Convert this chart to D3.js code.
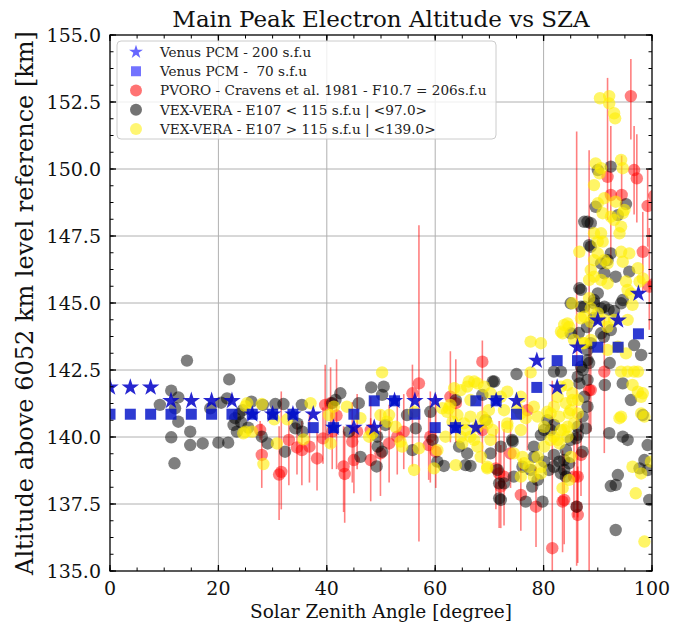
<!DOCTYPE html>
<html>
<head>
<meta charset="utf-8">
<script src="https://cdn.jsdelivr.net/npm/d3@7"></script>
<style>
  body { margin: 0; background: #fff; }
  text { font-family: "DejaVu Serif", serif; fill: #111; }
</style>
</head>
<body>
<div id="root"></div>
<script>
// ---- data ----
var pcmSza = [0, 3.75, 7.5, 11.25, 15, 18.75, 22.5, 26.25, 30, 33.75, 37.5, 41.25, 45, 48.75,
  52.5, 56.25, 60, 63.75, 67.5, 71.25, 75, 78.75, 82.5, 86.25, 90, 93.75, 97.5];
var pcm200 = [141.85, 141.85, 141.85, 141.35, 141.35, 141.35, 141.35, 140.85, 140.85, 140.85,
  140.85, 140.35, 140.35, 140.35, 141.35, 141.35, 141.35, 140.35, 140.35, 141.35, 141.35,
  142.85, 141.85, 143.35, 144.35, 144.35, 145.35];
var pcm70 = [140.85, 140.85, 140.85, 140.85, 140.85, 140.85, 140.85, 140.85, 140.85, 140.85,
  140.35, 140.35, 140.85, 141.35, 141.35, 140.85, 140.35, 140.35, 141.35, 141.35, 140.85,
  141.85, 142.85, 142.85, 143.35, 143.35, 143.85];

// PVORO: [sza, alt, low, high]
var pvoro = [
  [27.7, 140.26, 139.9, 140.6], [28.0, 139.33, 138.1, 140.5], [31.2, 138.6, 136.9, 140.4],
  [31.6, 138.7, 137.3, 141.7], [33.0, 139.89, 138.2, 140.8], [34.5, 139.61, 138.6, 140.5],
  [35.4, 139.51, 138.2, 140.6], [36.8, 139.64, 138.3, 140.9], [38.2, 139.2, 138.0, 140.2],
  [39.3, 139.95, 139.0, 141.1], [39.7, 141.2, 139.9, 142.7], [40.7, 141.26, 139.6, 142.6],
  [41.0, 140.2, 138.8, 141.3], [41.8, 140.8, 138.8, 142.9], [43.1, 138.9, 137.2, 140.4],
  [43.3, 138.62, 136.8, 140.2], [44.7, 139.83, 138.3, 141.3], [45.0, 139.14, 137.9, 140.4],
  [45.6, 140.2, 138.8, 141.6], [48.1, 139.14, 137.6, 140.7], [48.1, 140.26, 138.9, 141.5],
  [49.9, 139.39, 137.8, 141.0], [51.5, 139.76, 138.3, 141.2], [53.0, 140.01, 138.6, 141.4],
  [54.2, 140.2, 138.8, 141.6], [55.8, 141.63, 138.9, 142.7], [57.0, 142.0, 136.1, 147.9],
  [58.8, 139.7, 138.4, 141.0], [59.1, 140.01, 138.3, 141.7], [60.1, 139.45, 138.1, 141.6],
  [62.8, 141.5, 139.8, 143.2], [63.8, 141.26, 139.8, 142.9], [68.7, 142.81, 142.0, 143.6],
  [68.7, 140.26, 139.0, 141.5], [71.2, 138.83, 137.3, 140.3], [71.8, 138.64, 136.6, 140.6],
  [72.1, 138.15, 136.6, 139.7], [72.7, 138.52, 136.7, 140.3], [73.9, 139.39, 138.1, 140.7],
  [75.8, 137.84, 136.5, 139.2], [77.0, 141.0, 139.5, 142.5], [78.6, 137.4, 135.9, 138.9],
  [81.6, 135.85, 134.0, 142.1], [83.5, 137.59, 135.7, 139.5], [83.8, 137.65, 136.0, 139.3],
  [85.6, 138.52, 137.0, 140.0], [86.1, 137.4, 135.2, 151.4], [86.3, 137.09, 135.3, 138.9],
  [86.3, 138.52, 137.0, 140.2], [86.9, 139.33, 137.8, 140.9], [88.4, 141.75, 134.9, 150.7],
  [88.7, 141.75, 140.2, 143.3], [91.2, 142.44, 139.4, 144.5], [91.8, 149.71, 148.1, 153.4],
  [92.4, 149.03, 146.5, 151.6], [94.4, 149.03, 148.6, 150.5], [96.1, 152.72, 151.1, 154.1],
  [96.7, 149.96, 148.3, 151.6], [97.2, 149.65, 148.0, 151.3], [98.3, 146.91, 145.4, 148.4],
  [99.2, 148.62, 147.1, 150.0], [99.5, 145.61, 144.0, 147.8], [100.4, 149.0, 147.6, 150.4],
  [100.3, 145.7, 144.6, 146.8]
];

// VEX-VERA E107 < 115 s.f.u : [sza, alt]
var veraLow = [
  [9.2, 141.2], [11.3, 141.73], [12.6, 141.48], [12.0, 141.07], [12.6, 140.57], [11.3, 139.99],
  [11.9, 139.02], [14.2, 142.85], [14.8, 140.2], [14.8, 139.7], [17.1, 139.76], [18.5, 141.07],
  [20.0, 139.79], [21.8, 139.79], [20.5, 141.28], [21.6, 141.44], [22.0, 142.15], [23.1, 140.7],
  [22.8, 140.45], [23.4, 140.2], [24.5, 141.0], [23.8, 140.85], [24.2, 140.55], [25.5, 140.35],
  [26.1, 141.32], [28.2, 141.2], [28.0, 140.01], [29.1, 139.76], [30.5, 141.23], [32.0, 141.23],
  [32.3, 139.45], [34.2, 140.32], [34.6, 140.5], [35.4, 141.2], [35.5, 140.2], [41.0, 141.26],
  [41.6, 141.38], [42.5, 141.63], [44.1, 140.2], [45.9, 141.26], [46.2, 139.26], [48.2, 141.85],
  [50.5, 141.88], [50.2, 141.57], [50.8, 140.45], [49.3, 140.01], [49.4, 139.64], [50.2, 139.45],
  [49.2, 138.9], [54.8, 140.82], [56.4, 140.32], [55.8, 139.51], [59.1, 140.94], [59.5, 139.89],
  [60.4, 139.08], [61.6, 138.92], [63.8, 141.38], [64.4, 139.64], [65.9, 139.39], [65.6, 138.95],
  [66.5, 138.92], [68.7, 141.57], [69.3, 140.63], [70.2, 139.39], [70.6, 142.07], [71.5, 138.77],
  [71.8, 138.27], [71.8, 137.71], [72.7, 138.27], [72.1, 137.65], [72.1, 139.64], [74.2, 139.89],
  [74.3, 139.83], [75.0, 142.35], [70.9, 142.07], [76.7, 137.59], [77.9, 138.15], [79.8, 137.59],
  [78.2, 139.26], [80.1, 140.26], [81.9, 139.33], [81.9, 142.44], [83.2, 142.44], [83.2, 138.64],
  [84.1, 138.52], [84.7, 139.02], [86.0, 139.95], [86.3, 140.08], [87.2, 139.45], [87.8, 140.32],
  [86.1, 137.4], [88.1, 142.13], [88.4, 142.76], [88.1, 143.25], [85.0, 143.87], [86.5, 143.88],
  [91.1, 143.74], [92.4, 143.99], [92.1, 140.14], [91.3, 141.94], [94.6, 142.0], [93.3, 138.21],
  [92.4, 138.17], [93.7, 138.58], [93.3, 136.53], [94.6, 140.01], [95.5, 139.89], [96.1, 141.38],
  [96.7, 143.43], [98.0, 143.06], [99.2, 139.7], [98.3, 140.82], [97.7, 138.83], [98.6, 139.14],
  [99.5, 137.65], [99.2, 138.77], [92.2, 142.76], [86.3, 142.25], [87.2, 142.5], [86.6, 142.0],
  [87.5, 141.5], [88.1, 141.13], [87.2, 140.76], [86.3, 140.38], [85.0, 139.89], [84.1, 139.51],
  [82.9, 139.08], [81.9, 138.89], [83.8, 138.77], [80.1, 139.08], [81.0, 138.77], [78.2, 139.64],
  [77.6, 138.77], [78.9, 138.4], [76.1, 138.89], [74.5, 138.52], [81.3, 140.26], [81.9, 140.45],
  [80.7, 140.63], [79.5, 140.07], [83.8, 139.14], [86.9, 142.62], [88.1, 142.87], [88.7, 143.5],
  [90.6, 143.87], [85.0, 144.99], [86.9, 144.86], [89.3, 144.99], [91.2, 144.86], [94.3, 144.99],
  [92.4, 150.09], [90.0, 149.96], [89.6, 148.59], [95.2, 148.69], [88.1, 148.03], [88.7, 147.98],
  [87.5, 148.03], [93.7, 148.28], [88.4, 147.16], [88.7, 147.1], [86.9, 145.49], [86.6, 145.55],
  [93.3, 145.98], [95.8, 146.17], [92.4, 146.85], [91.8, 146.6], [90.6, 146.48], [91.2, 146.11],
  [90.0, 145.36], [89.3, 145.11], [94.6, 145.11], [87.5, 144.86], [90.6, 144.8], [92.0, 144.75],
  [93.0, 144.7], [89.3, 144.44], [88.0, 144.1]
];

// VEX-VERA E107 > 115 s.f.u : [sza, alt]
var veraHigh = [
  [25.0, 141.15], [28.0, 141.23], [25.3, 141.26], [24.6, 140.14], [26.2, 140.2], [25.0, 140.2],
  [30.8, 139.76], [28.3, 138.99], [30.3, 140.66], [32.7, 140.66], [35.7, 139.91], [37.0, 141.26],
  [40.4, 140.82], [41.3, 141.13], [40.7, 139.76], [43.7, 141.13], [46.2, 140.7], [48.4, 140.14],
  [47.8, 140.01], [50.2, 142.41], [51.5, 140.82], [51.1, 140.57], [53.6, 139.83], [53.9, 139.64],
  [52.7, 140.38], [56.1, 138.77], [57.0, 139.58], [59.8, 138.83], [60.4, 139.51], [61.9, 140.01],
  [63.2, 140.57], [62.5, 141.07], [63.5, 141.82], [64.7, 140.01], [65.3, 140.51], [66.5, 140.76],
  [66.2, 142.07], [67.8, 142.0], [63.8, 138.95], [67.8, 139.64], [68.4, 139.26], [69.6, 138.83],
  [70.2, 139.89], [70.2, 141.63], [69.3, 140.63], [69.9, 141.0], [49.9, 140.82], [56.1, 140.94],
  [61.3, 141.07], [62.2, 140.94], [62.8, 141.2], [64.1, 140.82], [65.6, 140.26], [66.5, 140.01],
  [67.2, 139.89], [65.0, 139.76], [67.8, 140.38], [68.7, 140.76], [69.6, 140.51], [70.6, 140.26],
  [66.5, 141.38], [69.0, 141.88], [65.9, 141.88], [67.2, 142.07], [64.7, 141.75],
  [77.6, 143.56], [79.5, 143.5], [77.6, 142.41], [83.5, 143.87], [73.3, 141.69], [75.8, 141.5],
  [73.3, 140.38], [75.8, 140.26], [76.7, 140.7], [74.5, 139.39], [76.1, 139.26], [77.3, 138.89],
  [79.5, 138.64], [80.7, 140.94], [81.9, 141.13], [82.9, 140.76], [83.2, 140.26], [84.4, 140.38],
  [85.0, 141.0], [86.3, 140.88], [81.3, 139.89], [82.9, 139.76], [85.0, 139.26], [84.7, 138.4],
  [83.5, 138.09], [84.4, 141.94], [85.3, 141.63], [86.3, 141.38], [87.2, 143.5], [88.7, 143.62],
  [91.8, 143.25], [93.7, 143.37], [95.2, 143.12], [95.5, 142.44], [96.7, 142.44], [97.4, 141.69],
  [98.3, 141.63], [94.0, 140.7], [98.6, 140.76], [98.0, 140.88], [96.4, 138.89], [98.0, 138.64],
  [97.0, 137.9], [98.6, 136.1], [99.8, 139.08], [69.6, 138.89],
  [72.1, 141.5], [72.7, 141.0], [73.3, 140.51], [75.2, 141.07], [75.8, 140.88], [78.2, 141.13],
  [78.9, 140.76], [80.1, 140.38], [81.3, 140.88], [82.6, 141.5], [83.2, 141.88], [84.1, 141.26],
  [85.3, 141.38], [84.7, 140.88], [85.6, 140.51], [83.8, 140.26], [81.9, 140.01], [80.1, 139.64],
  [78.9, 139.26], [76.4, 139.02], [75.8, 138.52], [78.2, 138.52], [79.5, 138.89], [82.6, 139.89],
  [84.4, 140.01], [83.8, 144.18], [83.2, 143.93], [84.7, 144.11], [86.9, 144.43], [88.7, 144.3],
  [85.6, 143.62], [87.5, 143.5], [91.2, 144.37], [91.8, 144.11], [94.3, 142.44], [97.4, 142.44],
  [96.4, 141.94], [98.0, 141.5], [94.3, 140.76],
  [90.4, 152.64], [92.1, 152.72], [92.1, 152.45], [93.0, 152.08], [93.2, 151.89], [89.6, 150.21],
  [90.6, 150.03], [90.3, 149.84], [89.3, 149.4], [94.3, 150.34], [94.6, 150.03], [91.2, 148.91],
  [90.0, 148.72], [93.3, 148.78], [94.9, 148.47], [94.6, 148.35], [92.4, 148.22], [93.0, 148.1],
  [90.9, 148.35], [94.0, 147.6], [94.3, 147.85], [89.3, 147.6], [90.6, 147.6], [90.0, 147.29],
  [90.9, 147.29], [86.6, 146.91], [90.0, 146.85], [91.2, 146.6], [91.8, 146.48], [89.3, 146.6],
  [94.3, 146.91], [95.8, 146.85], [94.6, 146.54], [97.4, 146.3], [98.3, 145.92], [97.7, 145.8],
  [88.7, 146.23], [89.3, 145.98], [90.6, 145.86], [91.8, 145.73], [88.4, 145.86], [95.2, 145.8],
  [95.5, 145.49], [96.1, 145.36], [88.4, 145.18], [88.7, 144.8], [87.5, 144.49], [90.0, 144.62],
  [85.3, 144.99], [84.4, 144.24], [96.4, 144.93], [95.5, 144.37], [93.0, 144.37]
];

var xTicks = [0, 20, 40, 60, 80, 100];
var yTicks = [135, 137.5, 140, 142.5, 145, 147.5, 150, 152.5, 155];
var legendLabels = [
  'Venus PCM - 200 s.f.u',
  'Venus PCM -  70 s.f.u',
  'PVORO - Cravens et al. 1981 - F10.7 = 206s.f.u',
  'VEX-VERA - E107 < 115 s.f.u | <97.0>',
  'VEX-VERA - E107 > 115 s.f.u | <139.0>'
];

// ---- layout ----
var W = 686, H = 626;
var pL = 110, pR = 652, pT = 35, pB = 571;
var x = d3.scaleLinear().domain([0, 100]).range([pL, pR]);
var y = d3.scaleLinear().domain([135, 155]).range([pB, pT]);

var svg = d3.select('#root').append('svg')
  .attr('width', W)
  .attr('height', H);

svg.append('defs').append('clipPath').attr('id', 'clip')
  .append('rect')
  .attr('x', pL).attr('y', pT)
  .attr('width', pR - pL).attr('height', pB - pT);

// grid
var grid = svg.append('g').attr('id', 'grid');
grid.selectAll('line.gx')
  .data(xTicks.slice(1, -1))
  .enter().append('line')
  .attr('x1', function(d) { return x(d); })
  .attr('x2', function(d) { return x(d); })
  .attr('y1', pT).attr('y2', pB)
  .attr('stroke', '#b0b0b0').attr('stroke-width', 1);
grid.selectAll('line.gy')
  .data(yTicks.slice(1, -1))
  .enter().append('line')
  .attr('y1', function(d) { return y(d); })
  .attr('y2', function(d) { return y(d); })
  .attr('x1', pL).attr('x2', pR)
  .attr('stroke', '#b0b0b0').attr('stroke-width', 1);

var plot = svg.append('g').attr('clip-path', 'url(#clip)');
var R = 6.2;

// PVORO with error bars
var red = plot.append('g').attr('id', 'pvoro');
red.selectAll('line')
  .data(pvoro)
  .enter().append('line')
  .attr('x1', function(d) { return x(d[0]); })
  .attr('x2', function(d) { return x(d[0]); })
  .attr('y1', function(d) { return y(d[2]); })
  .attr('y2', function(d) { return y(d[3]); })
  .attr('stroke', 'red').attr('stroke-opacity', 0.5).attr('stroke-width', 1.6);
red.selectAll('circle')
  .data(pvoro)
  .enter().append('circle')
  .attr('cx', function(d) { return x(d[0]); })
  .attr('cy', function(d) { return y(d[1]); })
  .attr('r', R)
  .attr('fill', 'red').attr('fill-opacity', 0.5);

// VEX-VERA low
plot.append('g').attr('id', 'veraLow')
  .selectAll('circle')
  .data(veraLow)
  .enter().append('circle')
  .attr('cx', function(d) { return x(d[0]); })
  .attr('cy', function(d) { return y(d[1]); })
  .attr('r', R)
  .attr('fill', '#000').attr('fill-opacity', 0.5);

// VEX-VERA high
plot.append('g').attr('id', 'veraHigh')
  .selectAll('circle')
  .data(veraHigh)
  .enter().append('circle')
  .attr('cx', function(d) { return x(d[0]); })
  .attr('cy', function(d) { return y(d[1]); })
  .attr('r', R)
  .attr('fill', '#ffee00').attr('fill-opacity', 0.6);

// Venus PCM
var star = d3.symbol().type(d3.symbolStar).size(95);
var square = d3.symbol().type(d3.symbolSquare).size(121);
plot.append('g').attr('id', 'pcm200')
  .selectAll('path')
  .data(pcmSza)
  .enter().append('path')
  .attr('d', star)
  .attr('transform', function(d, i) { return 'translate(' + x(d) + ',' + y(pcm200[i]) + ')'; })
  .attr('fill', '#0000c8').attr('fill-opacity', 0.85);
plot.append('g').attr('id', 'pcm70')
  .selectAll('path')
  .data(pcmSza)
  .enter().append('path')
  .attr('d', square)
  .attr('transform', function(d, i) { return 'translate(' + x(d) + ',' + y(pcm70[i]) + ')'; })
  .attr('fill', '#0010c8').attr('fill-opacity', 0.82);

// ---- axes ----
var xMinor = d3.range(0, 100.01, 5);
var yMinor = d3.range(135, 155.01, 0.625);
var ticks = svg.append('g').attr('id', 'ticks').attr('stroke', '#000');
function vt(data, len, w) {
  ticks.selectAll(null).data(data).enter().append('line')
    .attr('x1', function(d) { return x(d); }).attr('x2', function(d) { return x(d); })
    .attr('y1', pB).attr('y2', pB - len).attr('stroke-width', w);
  ticks.selectAll(null).data(data).enter().append('line')
    .attr('x1', function(d) { return x(d); }).attr('x2', function(d) { return x(d); })
    .attr('y1', pT).attr('y2', pT + len).attr('stroke-width', w);
}
function ht(data, len, w) {
  ticks.selectAll(null).data(data).enter().append('line')
    .attr('y1', function(d) { return y(d); }).attr('y2', function(d) { return y(d); })
    .attr('x1', pL).attr('x2', pL + len).attr('stroke-width', w);
  ticks.selectAll(null).data(data).enter().append('line')
    .attr('y1', function(d) { return y(d); }).attr('y2', function(d) { return y(d); })
    .attr('x1', pR).attr('x2', pR - len).attr('stroke-width', w);
}
vt(xMinor, 3.5, 1);
ht(yMinor, 3.5, 1);
vt(xTicks, 6, 1.3);
ht(yTicks, 6, 1.3);

svg.append('rect')
  .attr('x', pL).attr('y', pT)
  .attr('width', pR - pL).attr('height', pB - pT)
  .attr('fill', 'none').attr('stroke', '#000').attr('stroke-width', 1.3);

svg.append('g').selectAll('text')
  .data(xTicks)
  .enter().append('text')
  .attr('x', function(d) { return x(d); })
  .attr('y', 595)
  .attr('text-anchor', 'middle')
  .style('font-size', '19px')
  .text(function(d) { return d; });
svg.append('g').selectAll('text')
  .data(yTicks)
  .enter().append('text')
  .attr('x', 101)
  .attr('y', function(d) { return y(d) + 6.5; })
  .attr('text-anchor', 'end')
  .style('font-size', '19px')
  .text(function(d) { return d.toFixed(1); });

// labels
svg.append('text')
  .attr('x', (pL + pR) / 2).attr('y', 27)
  .attr('text-anchor', 'middle')
  .style('font-size', '23px')
  .text('Main Peak Electron Altitude vs SZA');
svg.append('text')
  .attr('x', (pL + pR) / 2).attr('y', 618)
  .attr('text-anchor', 'middle')
  .style('font-size', '18.5px')
  .text('Solar Zenith Angle [degree]');
svg.append('text')
  .attr('transform', 'translate(33,' + (pT + pB) / 2 + ') rotate(-90)')
  .attr('text-anchor', 'middle')
  .style('font-size', '24px')
  .text('Altitude above 6052 km level reference [km]');

// ---- legend ----
var lg = svg.append('g').attr('id', 'legend');
lg.append('rect')
  .attr('x', 117).attr('y', 41).attr('width', 379).attr('height', 98)
  .attr('rx', 4).attr('fill', '#fff').attr('fill-opacity', 0.8)
  .attr('stroke', '#cccccc').attr('stroke-width', 1);
var rowY = d3.scaleLinear().domain([0, 4]).range([52, 129]);
var items = lg.selectAll('g.item')
  .data(legendLabels)
  .enter().append('g')
  .attr('transform', function(d, i) { return 'translate(0,' + rowY(i) + ')'; });
items.each(function(d, i) {
  var g = d3.select(this);
  if (i === 0) {
    g.append('path').attr('d', d3.symbol().type(d3.symbolStar).size(60))
      .attr('transform', 'translate(136,0)').attr('fill', '#0000ff').attr('fill-opacity', 0.6);
  } else if (i === 1) {
    g.append('path').attr('d', d3.symbol().type(d3.symbolSquare).size(100))
      .attr('transform', 'translate(136,0)').attr('fill', '#0000ff').attr('fill-opacity', 0.55);
  } else {
    var c = ['red', '#000', '#ffee00'][i - 2];
    g.append('circle').attr('cx', 136).attr('cy', 0).attr('r', 6)
      .attr('fill', c).attr('fill-opacity', 0.55);
  }
  g.append('text')
    .attr('x', 160).attr('y', 4.8)
    .attr('xml:space', 'preserve')
    .style('white-space', 'pre')
    .style('font-size', '13.6px')
    .style('fill', '#222')
    .text(d);
});
</script>
</body>
</html>
